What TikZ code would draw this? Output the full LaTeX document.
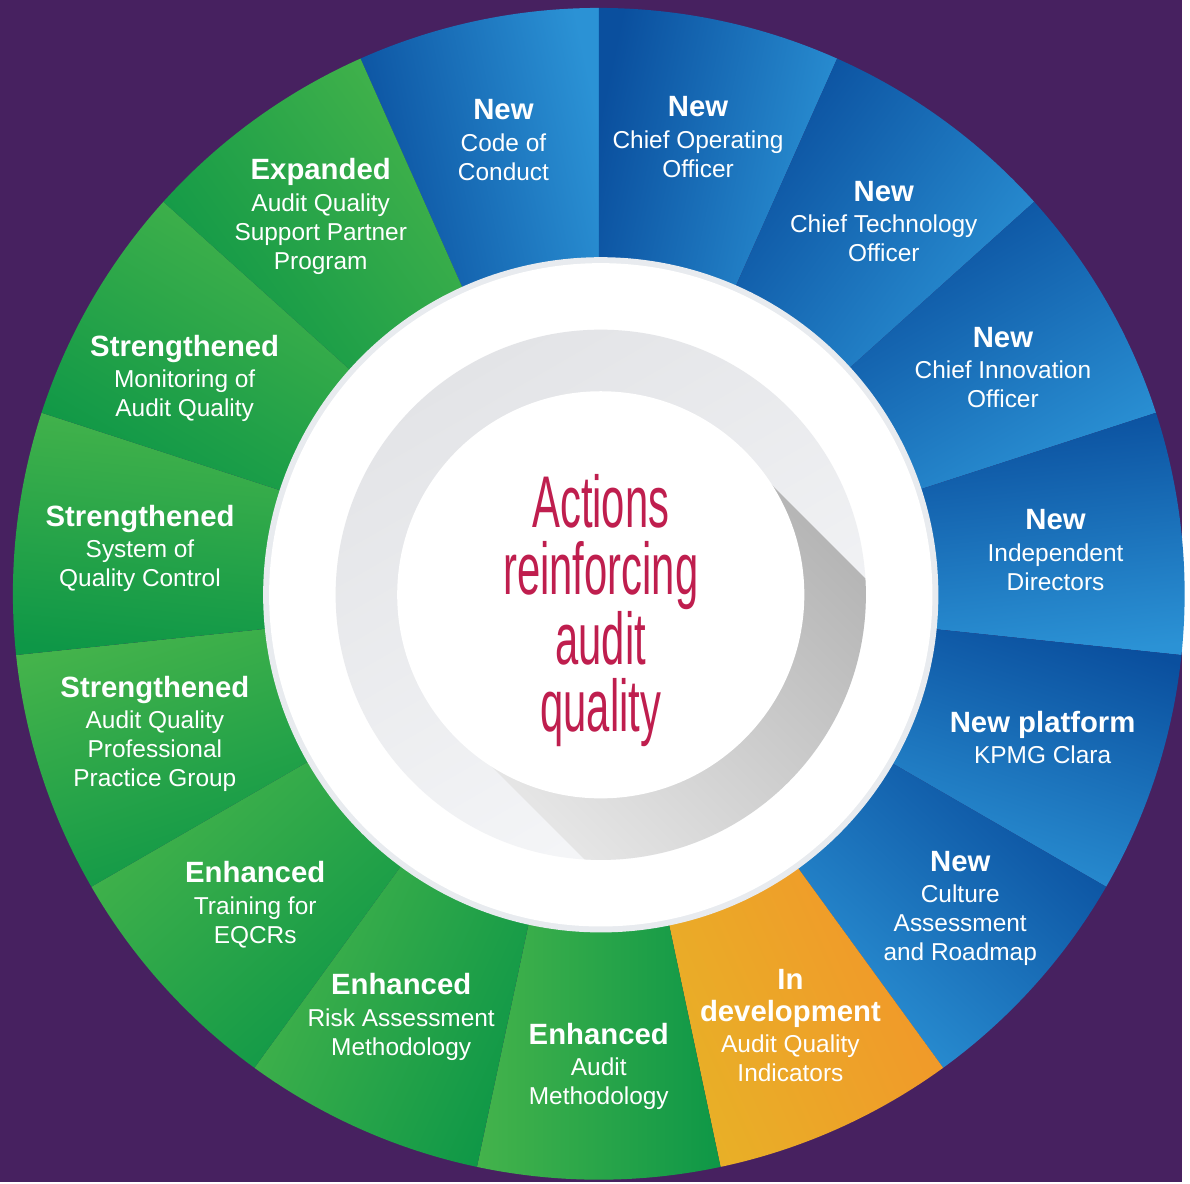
\documentclass[tikz,border=0pt]{standalone}
\usepackage{fontspec}
\setmainfont{Liberation Sans}
\newfontfamily\titlefont[FakeStretch=0.57]{Liberation Sans}

\definecolor{bgpurple}{HTML}{472160}
\definecolor{dkblue}{HTML}{0A4F9E}
\definecolor{ltblue}{HTML}{2B92D5}
\definecolor{dkgreen}{HTML}{0E9747}
\definecolor{ltgreen}{HTML}{44B34B}
\definecolor{dkorange}{HTML}{F2962A}
\definecolor{ltorange}{HTML}{E8B027}
\definecolor{rimgrey}{HTML}{E8EBEF}
\definecolor{ringtop}{HTML}{E3E4E7}
\definecolor{ringbottom}{HTML}{F6F7F9}
\definecolor{shadowdark}{HTML}{ABABAB}
\definecolor{shadowlight}{HTML}{F0F0F0}
\definecolor{titlered}{HTML}{BF1E4E}

\tikzset{
	segtxt/.style={text=white, align=center, inner sep=0pt, font=\fontsize{14}{16.6}\selectfont},
	titletxt/.style={text=titlered, align=center, inner sep=0pt, font=\titlefont\fontsize{42}{38.3}\selectfont},
}
\newcommand{\segbold}[1]{{\bfseries\fontsize{16.8}{18}\selectfont #1}}

\begin{document}
\begin{tikzpicture}[x=0.02cm,y=0.02cm]
	\fill[bgpurple] (-603,-592) rectangle (587,598);

	\foreach \a/\c [evaluate=\a as \sa using \a+12, evaluate=\a as \ea using \a-12] in {102/blue,78/blue,54/blue,30/blue,6/blue,-18/blue,-42/blue,-66/orange,-90/green,-114/green,-138/green,-162/green,174/green,150/green,126/green} {
	     \shade[left color=dk\c, right color=lt\c, shading angle=\a] (\sa:320) -- (\sa:590) arc[start angle=\sa, end angle=\ea, radius=590] -- (\ea:320) arc[start angle=\ea, end angle=\sa, radius=320] -- cycle;
 	}
	% koniec kola

	\begin{scope}[shift={(2,-1)}]
	\fill[rimgrey] (0,0) circle (340);
	\fill[white] (0,0) circle (334);
	\shade[top color=ringtop, bottom color=ringbottom, shading angle=30] (0,0) circle (267);
	\begin{scope}
		\clip (0,0) circle (267);
		\shade[left color=shadowdark, right color=shadowlight, shading angle=-45] (45:200) -- ++(-45:420) -- ++(-135:400) -- ++(135:420) -- cycle;
	\end{scope}
	\fill[white] (0,0) circle (205);
	\end{scope}

	\node[titletxt] (title) at (2,-17) {Actions\\reinforcing\\audit\\quality};

	\node[segtxt] (coc) at (-96,457) {\segbold{New}\\[1.4pt]Code of\\Conduct};
	\node[segtxt] (coo) at (100,460) {\segbold{New}\\[1.4pt]Chief Operating\\Officer};
	\node[segtxt] (cto) at (287,375) {\segbold{New}\\[1.4pt]Chief Technology\\Officer};
	\node[segtxt] (cio) at (407,228) {\segbold{New}\\[1.4pt]Chief Innovation\\Officer};
	\node[segtxt] (directors) at (460,44) {\segbold{New}\\[1.4pt]Independent\\Directors};
	\node[segtxt] (clara) at (447,-145) {\segbold{New platform}\\[1.4pt]KPMG Clara};
	\node[segtxt] (culture) at (364,-317) {\segbold{New}\\[1.4pt]Culture\\Assessment\\and Roadmap};
	\node[segtxt] (aqi) at (193,-435) {\segbold{In}\\[1.4pt]\segbold{development}\\[1.4pt]Audit Quality\\Indicators};
	\node[segtxt] (methodology) at (0,-476) {\segbold{Enhanced}\\[1.4pt]Audit\\Methodology};
	\node[segtxt] (risk) at (-199,-426) {\segbold{Enhanced}\\[1.4pt]Risk Assessment\\Methodology};
	\node[segtxt] (eqcr) at (-346,-313) {\segbold{Enhanced}\\[1.4pt]Training for\\EQCRs};
	\node[segtxt] (ppg) at (-447,-141) {\segbold{Strengthened}\\[1.4pt]Audit Quality\\Professional\\Practice Group};
	\node[segtxt] (sqc) at (-462,46) {\segbold{Strengthened}\\[1.4pt]System of\\Quality Control};
	\node[segtxt] (monitoring) at (-417,217) {\segbold{Strengthened}\\[1.4pt]Monitoring of\\Audit Quality};
	\node[segtxt] (expanded) at (-280,380) {\segbold{Expanded}\\[1.4pt]Audit Quality\\Support Partner\\Program};
\end{tikzpicture}
\end{document}
